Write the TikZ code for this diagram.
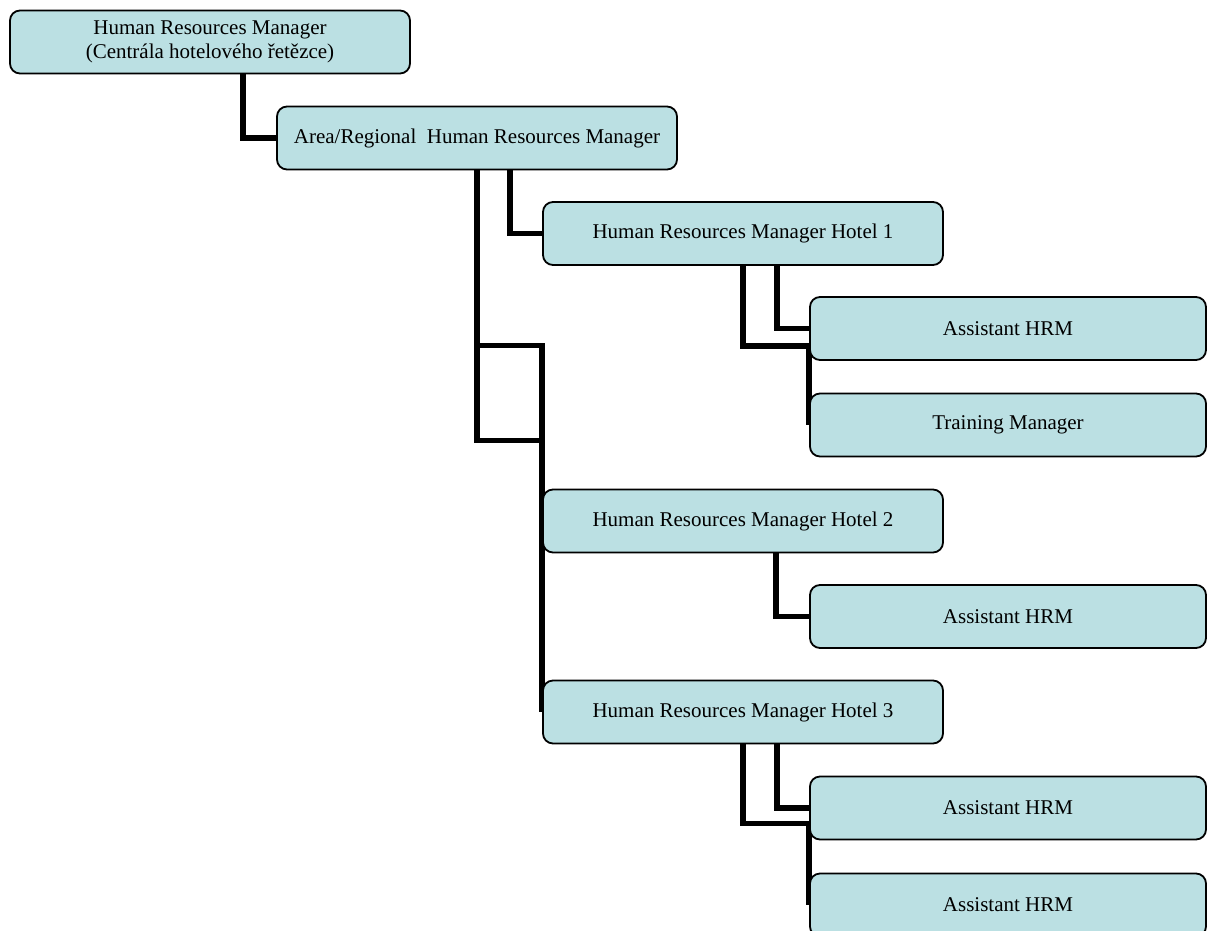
\documentclass[tikz,border=0pt]{standalone}
\usepackage{fontspec}
\setmainfont{Liberation Serif}
\usepackage{xcolor}
\usetikzlibrary{backgrounds}
\definecolor{boxfill}{RGB}{187,224,227}

\begin{document}
\begin{tikzpicture}[x=1pt,y=-1pt]% one unit = one pixel of the sketch
                \pgfmathsetmacro{\BoxW}{400}
                \pgfmathsetmacro{\BoxH}{63}
                \tikzset{%
                    inner sep=0pt,%
                    hrbox/.style=
                    {draw=black,line width=1.8pt,fill=boxfill,rounded corners=10pt,
                    minimum width=\BoxW pt,minimum height=\BoxH pt,align=center,
                    font=\fontsize{21}{24}\selectfont},%
                    subbox/.style={hrbox,minimum width=396pt},%
                    link/.style={line width=5.5pt,black,line join=miter}%
                        }
            \useasboundingbox (0,0) rectangle (1208,930);
	        {
                % the boxes, row by row
                \node[hrbox] (hrm) at (210,42)
                {Human Resources Manager\\(Centrála hotelového řetězce)};
                \node[hrbox] (area) at (477,138)
                {Area/Regional~ Human Resources Manager};
                \node[hrbox] (hotel1) at (743,233.5) {Human Resources Manager Hotel 1};
                \node[subbox] (asst1) at (1008,328.5) {Assistant HRM};
                \node[subbox] (train) at (1008,425) {Training Manager};
                \node[hrbox] (hotel2) at (743,521) {Human Resources Manager Hotel 2};
                \node[subbox] (asst2) at (1008,616.5) {Assistant HRM};
                \node[hrbox] (hotel3) at (743,712) {Human Resources Manager Hotel 3};
                \node[subbox] (asst3a) at (1008,808) {Assistant HRM};
                \node[subbox] (asst3b) at (1008,905) {Assistant HRM};
            }
            \begin{scope}[on background layer]
            {
                % elbow connectors, drawn under the boxes
                \draw[link] ([xshift=33pt]hrm.south) |- (area.west);
                \draw[link] ([xshift=33pt]area.south) |- (hotel1.west);
                \draw[link] (area.south) -- ++(0,175) -| (hotel2.west);
                \draw[link] (area.south) -- ++(0,270) -| (hotel3.west);
                \draw[link] ([xshift=34pt]hotel1.south) |- (asst1.west);
                \draw[link] (hotel1.south) -- ++(0,80) -| (train.west);
                \draw[link] ([xshift=33pt]hotel2.south) |- (asst2.west);
                \draw[link] ([xshift=34pt]hotel3.south) |- (asst3a.west);
                \draw[link] (hotel3.south) -- ++(0,79) -| (asst3b.west);
            }
            \end{scope}
\end{tikzpicture}
\end{document}
